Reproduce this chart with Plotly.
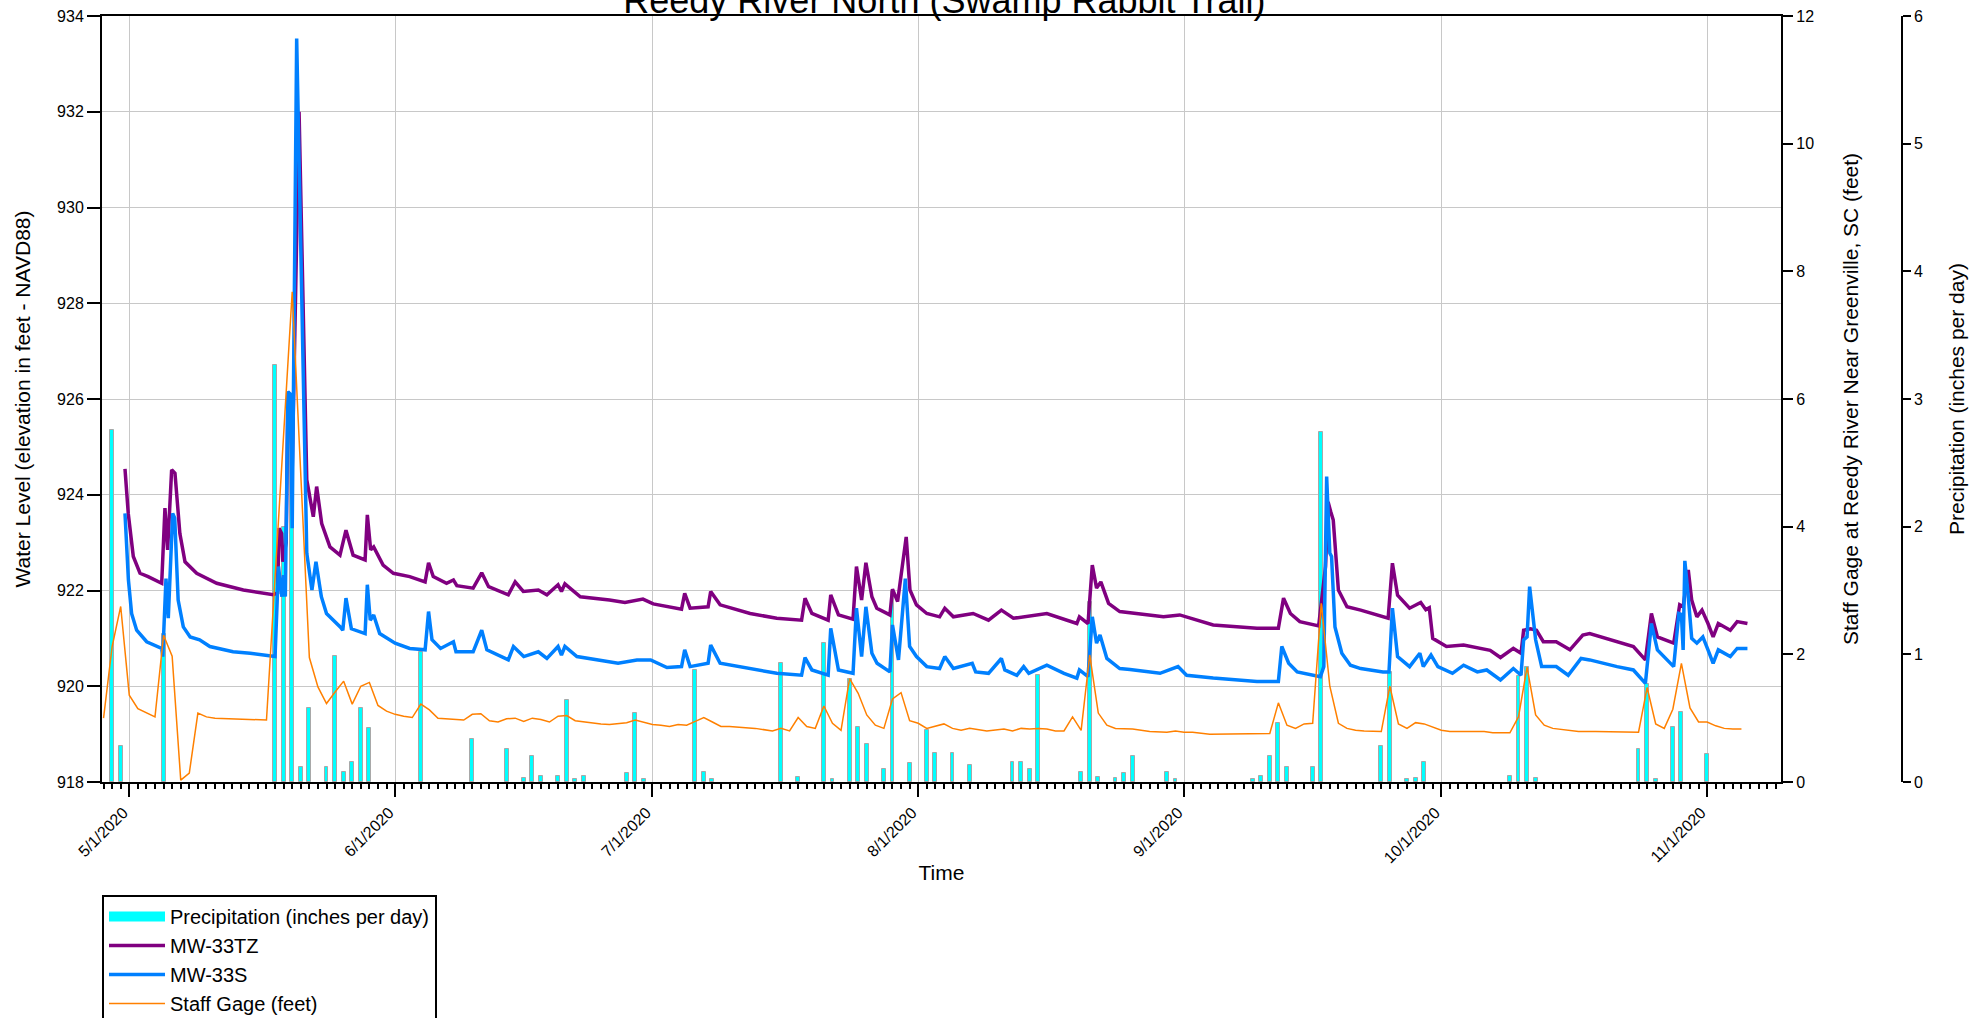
import pandas as pd
import plotly.graph_objects as go

# x values are days since 2020-05-01 00:00 (fractional days)
BASE = pd.Timestamp("2020-05-01")

mw33tz_day = [-0.5, -0.12, 0.47, 1.25, 2.2, 3.78, 4.16, 4.47, 4.94, 5.33, 5.9, 6.5, 7.86, 10.2, 13.3, 16.8,
              17.3, 17.46, 17.77, 17.9, 18.3, 18.5, 18.8, 19.0, 19.8, 20.4, 20.7, 21.46, 21.85, 22.44, 23.4,
              24.57, 25.27, 26.1, 27.5, 27.76, 28.15, 28.5, 29.6, 30.8, 32.7, 34.5, 34.9, 35.45, 37.0, 37.8,
              38.2, 40.1, 41.1, 41.9, 44.2, 45.0, 45.95, 47.7, 48.7, 50.0, 50.4, 50.8, 52.6, 56.0, 57.8, 59.9,
              61.1, 64.4, 64.77, 65.4, 67.5, 67.8, 68.9, 72.4, 75.5, 78.4, 78.8, 79.6, 81.5, 81.8, 82.7, 84.4,
              84.8, 85.4, 85.9, 86.6, 87.17, 88.7, 89.0, 89.6, 90.6, 91.04, 91.8, 93.0, 94.5, 95.1, 96.1, 98.4,
              100.2, 101.7, 103.1, 107.0, 110.5, 110.8, 111.8, 112.3, 112.8, 113.3, 114.2, 115.5, 120.6, 122.5,
              126.4, 131.5, 134.0, 134.6, 135.4, 136.5, 138.7, 139.5, 139.8, 140.1, 140.4, 141.0, 142.0, 143.6,
              145.7, 146.8, 147.3, 147.9, 149.3, 150.6, 151.2, 151.6, 152.0, 153.6, 155.6, 157.6, 158.7, 159.9,
              161.4, 162.3, 162.6, 163.4, 164.1, 164.9, 166.4, 168.0, 169.5, 170.3, 173.5, 175.4, 176.8, 177.5,
              178.2, 180.1, 180.8, 181.2, 181.8, 182.2, 182.8, 183.4, 184.1, 184.7, 185.3, 186.7, 187.5, 188.7]
mw33tz_ft = [924.54, 923.61, 922.71, 922.36, 922.29, 922.15, 923.72, 922.85, 924.52, 924.45, 923.19, 922.6, 922.36,
             922.15, 922.01, 921.91, 921.95, 923.3, 923.19, 922.6, 923.0, 926.15, 926.0, 924.5, 932.0, 926.5,
             924.31, 923.54, 924.17, 923.4, 922.91, 922.74, 923.26, 922.74, 922.64, 923.58, 922.85, 922.91, 922.53,
             922.36, 922.29, 922.18, 922.58, 922.29, 922.15, 922.22, 922.1, 922.05, 922.37, 922.08, 921.91, 922.18,
             921.98, 922.01, 921.91, 922.12, 921.98, 922.14, 921.87, 921.8, 921.75, 921.82, 921.72, 921.61, 921.94,
             921.63, 921.66, 921.98, 921.7, 921.52, 921.42, 921.38, 921.84, 921.52, 921.38, 921.91, 921.49, 921.4,
             922.5, 921.8, 922.58, 921.87, 921.63, 921.49, 922.03, 921.77, 923.12, 922.01, 921.7, 921.52, 921.45,
             921.63, 921.45, 921.52, 921.38, 921.59, 921.42, 921.52, 921.31, 921.45, 921.31, 922.53, 922.05, 922.18,
             921.73, 921.56, 921.45, 921.49, 921.28, 921.21, 921.21, 921.84, 921.52, 921.35, 921.26, 922.5, 923.85,
             923.65, 923.47, 922.01, 921.66, 921.59, 921.49, 921.42, 922.57, 921.9, 921.63, 921.75, 921.6, 921.64,
             921.0, 920.83, 920.86, 920.79, 920.75, 920.6, 920.79, 920.69, 921.17, 921.2, 921.17, 920.93, 920.93,
             920.76, 921.07, 921.1, 920.93, 920.83, 920.55, 921.52, 921.03, 920.9, 921.7, 921.66, 922.43, 921.8,
             921.45, 921.59, 921.31, 921.03, 921.31, 921.17, 921.35, 921.31]

mw33s_day = [-0.5, -0.1, 0.27, 0.86, 2.03, 3.78, 3.9, 4.28, 4.55, 5.06, 5.3, 5.7, 6.3, 7.1, 8.2, 9.4, 12.1, 14.1,
             17.0, 17.4, 17.8, 18.0, 18.2, 18.5, 18.8, 19.0, 19.52, 20.3, 20.5, 20.7, 21.3, 21.77, 22.4, 23.0,
             24.6, 24.9, 25.27, 25.9, 27.5, 27.76, 28.1, 28.5, 29.2, 31.0, 32.7, 34.5, 34.9, 35.3, 36.3, 37.8,
             38.1, 40.1, 41.1, 41.7, 44.2, 44.8, 46.0, 47.7, 48.7, 50.0, 50.4, 50.8, 52.2, 56.0, 57.0, 59.2, 60.8,
             62.7, 64.4, 64.77, 65.4, 67.5, 67.8, 68.9, 72.4, 75.5, 78.4, 78.8, 79.6, 81.5, 81.8, 82.7, 84.4, 84.8,
             85.4, 85.9, 86.6, 87.2, 88.7, 89.0, 89.7, 90.5, 91.0, 91.8, 93.0, 94.5, 95.1, 96.1, 98.3, 98.7, 100.2,
             101.7, 102.1, 103.5, 104.3, 104.9, 107.0, 109.0, 110.5, 110.8, 111.8, 112.3, 112.8, 113.2, 114.0,
             115.5, 116.7, 120.2, 122.3, 123.3, 126.4, 131.5, 134.0, 134.4, 135.2, 136.2, 138.9, 139.3, 139.63,
             140.0, 140.2, 140.6, 141.4, 142.4, 143.6, 146.2, 146.9, 147.3, 147.9, 149.3, 150.5, 150.9, 151.8,
             152.6, 154.3, 155.6, 157.2, 158.3, 159.9, 161.4, 162.3, 162.6, 163.0, 163.3, 164.0, 164.7, 166.4,
             167.8, 169.3, 170.3, 173.5, 175.4, 176.8, 177.5, 178.2, 180.1, 180.7, 181.0, 181.2, 181.4, 181.8,
             182.2, 182.8, 183.5, 184.1, 184.7, 185.3, 186.7, 187.5, 188.7]
mw33s_ft = [923.61, 922.22, 921.52, 921.17, 920.93, 920.79, 920.62, 922.25, 921.42, 923.61, 923.51, 921.8, 921.24,
            921.03, 920.97, 920.83, 920.72, 920.69, 920.62, 922.5, 921.87, 922.32, 921.87, 926.15, 926.1, 923.3,
            933.53, 926.5, 924.0, 922.78, 922.01, 922.6, 921.87, 921.52, 921.24, 921.17, 921.84, 921.2, 921.1,
            922.12, 921.38, 921.49, 921.1, 920.9, 920.79, 920.76, 921.56, 920.97, 920.79, 920.93, 920.72, 920.72,
            921.17, 920.76, 920.55, 920.83, 920.62, 920.72, 920.58, 920.83, 920.65, 920.83, 920.62, 920.51, 920.48,
            920.55, 920.55, 920.39, 920.41, 920.76, 920.41, 920.48, 920.86, 920.48, 920.37, 920.27, 920.23, 920.6,
            920.34, 920.23, 921.21, 920.34, 920.27, 921.63, 920.62, 921.66, 920.69, 920.48, 920.3, 921.28, 920.55,
            922.25, 920.83, 920.62, 920.41, 920.37, 920.62, 920.37, 920.48, 920.3, 920.27, 920.58, 920.34, 920.23,
            920.41, 920.27, 920.44, 920.27, 920.17, 920.34, 920.2, 921.45, 920.9, 921.07, 920.58, 920.37, 920.35,
            920.27, 920.41, 920.23, 920.17, 920.1, 920.1, 920.83, 920.48, 920.3, 920.2, 920.41, 924.38, 922.78,
            922.71, 921.24, 920.69, 920.44, 920.37, 920.3, 920.3, 921.63, 920.62, 920.41, 920.69, 920.41, 920.65,
            920.41, 920.27, 920.44, 920.3, 920.34, 920.13, 920.37, 920.23, 920.97, 921.03, 922.08, 920.97, 920.41,
            920.41, 920.23, 920.58, 920.55, 920.41, 920.34, 920.06, 921.31, 920.76, 920.41, 921.52, 921.5, 920.76,
            922.62, 921.87, 921.0, 920.9, 921.03, 920.76, 920.48, 920.76, 920.62, 920.79, 920.79]

staff_day = [-3, -2, -1, 0, 1, 2, 3, 4, 5, 6, 7, 8, 9, 10, 16, 19, 21, 22, 23, 24, 25, 26, 27, 28, 29, 30, 31, 32,
             33, 34, 35, 36, 37, 38, 39, 40, 41, 42, 43, 44, 45, 46, 47, 48, 49, 50, 51, 52, 53, 54, 55, 56, 57, 58,
             59, 60, 61, 62, 63, 64, 65, 66, 67, 68, 69, 70, 72, 73, 75, 76, 77, 78, 79, 80, 81, 82, 83, 84, 85, 86,
             87, 88, 89, 90, 91, 92, 93, 94, 95, 96, 97, 98, 100, 102, 103, 104, 105, 106, 107, 108, 109, 110, 111,
             112, 113, 114, 115, 117, 119, 121, 122, 123, 124, 126, 127, 133, 134, 135, 136, 137, 138, 139, 140,
             141, 142, 143, 144, 146, 147, 148, 149, 150, 151, 153, 154, 158, 159, 161, 162, 163, 164, 165, 166,
             168, 169, 171, 174, 176, 177, 178, 179, 180, 181, 182, 183, 184, 185, 186, 187, 188]
staff_ft = [1.0, 2.12, 2.75, 1.36, 1.15, 1.08, 1.02, 2.3, 1.97, 0.03, 0.14, 1.08, 1.02, 1.0, 0.97, 7.68, 1.95, 1.49,
            1.23, 1.41, 1.58, 1.22, 1.5, 1.56, 1.2, 1.11, 1.06, 1.03, 1.01, 1.22, 1.13, 1.0, 0.99, 0.98, 0.97, 1.06,
            1.07, 0.96, 0.94, 0.99, 1.0, 0.95, 1.0, 0.98, 0.94, 1.03, 1.04, 0.96, 0.94, 0.93, 0.91, 0.9, 0.91, 0.93,
            0.97, 0.94, 0.9, 0.89, 0.87, 0.9, 0.89, 0.95, 1.01, 0.94, 0.87, 0.87, 0.85, 0.84, 0.8, 0.84, 0.8, 1.01,
            0.87, 0.84, 1.19, 0.92, 0.81, 1.62, 1.39, 1.05, 0.89, 0.84, 1.3, 1.4, 0.96, 0.92, 0.84, 0.88, 0.91, 0.84,
            0.81, 0.84, 0.8, 0.83, 0.8, 0.84, 0.83, 0.84, 0.83, 0.8, 0.8, 1.02, 0.81, 1.99, 1.08, 0.89, 0.84, 0.83,
            0.79, 0.78, 0.8, 0.78, 0.78, 0.75, 0.75, 0.76, 1.24, 0.89, 0.84, 0.91, 0.92, 2.8, 1.5, 0.92, 0.84, 0.81,
            0.8, 0.79, 1.5, 0.91, 0.84, 0.93, 0.91, 0.81, 0.79, 0.79, 0.77, 0.77, 1.02, 1.8, 1.05, 0.89, 0.84, 0.81,
            0.79, 0.79, 0.78, 0.78, 1.48, 0.91, 0.84, 1.14, 1.86, 1.16, 0.94, 0.94, 0.88, 0.84, 0.83, 0.83]

precip_day = [-2, -1, 4, 17, 18, 19, 20, 21, 23, 24, 25, 26, 27, 28, 34, 40, 44, 46, 47, 48, 50, 51, 52, 53, 58, 59,
              60, 66, 67, 68, 76, 78, 81, 82, 84, 85, 86, 88, 89, 91, 93, 94, 96, 98, 103, 104, 105, 106, 111, 112,
              113, 115, 116, 117, 121, 122, 131, 132, 133, 134, 135, 138, 139, 146, 147, 149, 150, 151, 161, 162,
              163, 164, 176, 177, 178, 180, 181, 184]
precip_in = [2.76, 0.28, 1.16, 3.27, 2.0, 2.9, 0.12, 0.58, 0.12, 0.99, 0.08, 0.16, 0.58, 0.42, 1.02, 0.34, 0.26, 0.03,
             0.2, 0.05, 0.05, 0.64, 0.02, 0.05, 0.07, 0.54, 0.02, 0.88, 0.08, 0.02, 0.93, 0.04, 1.09, 0.02, 0.81, 0.43,
             0.3, 0.1, 1.5, 0.15, 0.41, 0.23, 0.23, 0.13, 0.16, 0.16, 0.1, 0.84, 0.08, 1.41, 0.04, 0.03, 0.07, 0.2,
             0.08, 0.02, 0.02, 0.05, 0.2, 0.46, 0.12, 0.12, 2.74, 0.28, 0.86, 0.02, 0.03, 0.16, 0.05, 0.83, 0.9, 0.03,
             0.26, 0.77, 0.02, 0.43, 0.55, 0.22]


def to_time(days):
    return BASE + pd.to_timedelta(days, unit="D")


FONT = "Arial, Liberation Sans, sans-serif"
DAY_MS = 86400000
PRECIP_NAME = "Precipitation (inches per day)"

fig = go.Figure()
# legend-only entry giving the precipitation key a wide cyan swatch, as in the original legend
fig.add_trace(go.Scatter(x=[None], y=[None], name=PRECIP_NAME, yaxis="y", mode="lines",
                         line=dict(color="#00FFFF", width=16), hoverinfo="skip"))
fig.add_trace(go.Bar(x=to_time(precip_day), y=precip_in, name=PRECIP_NAME, showlegend=False,
                     yaxis="y", width=0.45 * DAY_MS,
                     marker=dict(color="#00FFFF", line=dict(color="#A8A8A8", width=1))))
fig.add_trace(go.Scatter(x=to_time(mw33tz_day), y=mw33tz_ft, name="MW-33TZ", yaxis="y2", mode="lines",
                         line=dict(color="#800080", width=3.5)))
fig.add_trace(go.Scatter(x=to_time(mw33s_day), y=mw33s_ft, name="MW-33S", yaxis="y2", mode="lines",
                         line=dict(color="#0080FF", width=3.5)))
fig.add_trace(go.Scatter(x=to_time(staff_day), y=staff_ft, name="Staff Gage (feet)", yaxis="y3", mode="lines",
                         line=dict(color="#FF8000", width=1.5)))

tickfont = dict(family=FONT, size=16, color="black")
titlefont = dict(family=FONT, size=21, color="black")

fig.update_layout(
    width=1974, height=1018,
    margin=dict(l=102, r=72, t=16, b=236, autoexpand=False),
    paper_bgcolor="white", plot_bgcolor="white",
    font=dict(family=FONT, color="black"),
    title=dict(text="Reedy River North (Swamp Rabbit Trail)", font=dict(family=FONT, size=36, color="black"),
               x=0.468, xref="paper", xanchor="center", y=1.0, yref="container", yanchor="middle"),
    showlegend=True,
    legend=dict(x=0, y=-0.1475, xanchor="left", yanchor="top", bordercolor="black", borderwidth=2,
                bgcolor="white", font=dict(family=FONT, size=20, color="black"), itemwidth=56,
                traceorder="normal"),
    bargap=0,
    xaxis=dict(type="date", domain=[0, 0.9328], range=["2020-04-27 19:40", "2020-11-09 14:50"],
               tick0="2020-05-01", dtick="M1", tickformat="%-m/%-d/%Y", tickangle=-45, ticklabelshift=-6,
               ticks="outside", ticklen=13, tickwidth=2, tickcolor="black", tickfont=tickfont,
               showline=True, linecolor="black", linewidth=2, mirror=True,
               showgrid=True, gridcolor="#C8C8C8", gridwidth=1, zeroline=False,
               minor=dict(dtick=DAY_MS, tick0="2020-05-01", ticks="outside", ticklen=5, tickwidth=1.5,
                          tickcolor="black", showgrid=False),
               title=dict(text="Time", font=titlefont, standoff=0)),
    yaxis=dict(range=[0, 6], dtick=1, anchor="free", position=1.0, side="right",
               ticks="outside", ticklen=8, tickwidth=1.5, tickcolor="black", tickfont=tickfont,
               showline=True, linecolor="black", linewidth=1.5, showgrid=False, zeroline=False,
               title=dict(text=PRECIP_NAME, font=titlefont, standoff=26)),
    yaxis2=dict(range=[918, 934], dtick=2, overlaying="y", anchor="x", side="left",
                ticks="outside", ticklen=13, tickwidth=2, tickcolor="black", tickfont=tickfont,
                showline=True, linecolor="black", linewidth=2,
                showgrid=True, gridcolor="#C8C8C8", gridwidth=1, zeroline=False,
                title=dict(text="Water Level (elevation in feet - NAVD88)", font=titlefont, standoff=21)),
    yaxis3=dict(range=[0, 12], dtick=2, overlaying="y", anchor="x", side="right",
                ticks="outside", ticklen=10, tickwidth=1.5, tickcolor="black", tickfont=tickfont,
                showline=True, linecolor="black", linewidth=2, showgrid=False, zeroline=False,
                title=dict(text="Staff Gage at Reedy River Near Greenville, SC (feet)", font=titlefont,
                           standoff=30)),
)

# remove the browser's default 8px body margin so the figure sits at the page's top-left corner
fig.write_html("out.html", config={"displayModeBar": False},
               post_script="document.body.style.margin='0';")
